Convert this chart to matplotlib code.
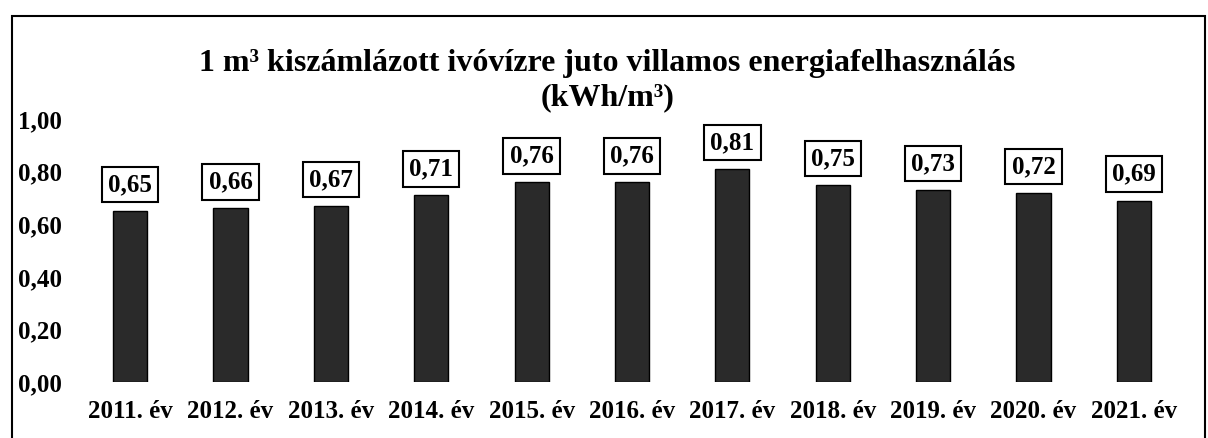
import matplotlib.pyplot as plt
from matplotlib.patches import Rectangle
from matplotlib.ticker import FuncFormatter

years = ["2011. év", "2012. év", "2013. év", "2014. év", "2015. év", "2016. év",
         "2017. év", "2018. év", "2019. év", "2020. év", "2021. év"]
values = [0.65, 0.66, 0.67, 0.71, 0.76, 0.76, 0.81, 0.75, 0.73, 0.72, 0.69]
yticks = [0.0, 0.2, 0.4, 0.6, 0.8, 1.0]

plt.rcParams['font.family'] = ['Liberation Serif', 'DejaVu Serif']
plt.rcParams['font.weight'] = 'bold'

fig = plt.figure(figsize=(12.08, 4.38), dpi=100)
ax = fig.add_axes([0.0662, 0.128, 0.914, 0.600])

x = range(len(years))
ax.bar(x, values, width=0.34, color='#2a2a2a', edgecolor='black', linewidth=1)

# value labels in boxes above the bars
for xi, v in zip(x, values):
    ax.annotate(f"{v:.2f}".replace('.', ','), (xi, v), xytext=(0, 19),
                textcoords='offset points', ha='center', va='center',
                fontsize=18, fontweight='bold',
                bbox=dict(boxstyle='square,pad=0.25', fc='white', ec='black', lw=1.5))

ax.set_xlim(-0.5, len(years) - 0.5)
ax.set_ylim(0, 1.0)
ax.set_yticks(yticks)
ax.yaxis.set_major_formatter(FuncFormatter(lambda v, p: f"{v:.2f}".replace('.', ',')))
ax.set_xticks(list(x))
ax.set_xticklabels(years)
ax.tick_params(axis='both', length=0, labelsize=18)
ax.tick_params(axis='y', pad=13)
ax.tick_params(axis='x', pad=13)
for s in ax.spines.values():
    s.set_visible(False)

fig.text(0.503, 0.855, "1 m³ kiszámlázott ivóvízre juto villamos energiafelhasználás",
         ha='center', va='center', fontsize=23, fontweight='bold')
fig.text(0.503, 0.778, "(kWh/m³)", ha='center', va='center', fontsize=23, fontweight='bold')

# outer frame of the chart
fig.patches.append(Rectangle((12 / 1208, -0.1), (1205 - 12) / 1208, 1.1 - 16 / 438,
                             transform=fig.transFigure, fill=False, ec='black', lw=1.5))

fig.savefig("out.png", dpi=100)
